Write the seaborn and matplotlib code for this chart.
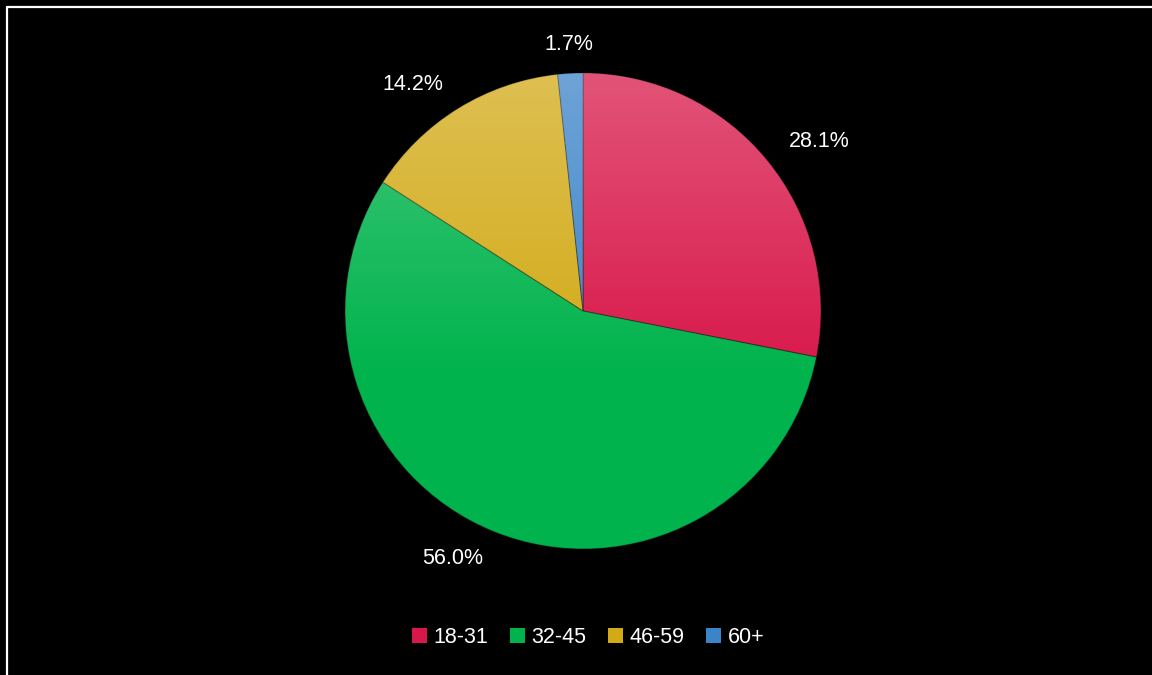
import numpy as np
import matplotlib
matplotlib.use("Agg")
import matplotlib.pyplot as plt
import seaborn as sns
from matplotlib.patches import Patch, Circle
from matplotlib.lines import Line2D

age_groups = ["18-31", "32-45", "46-59", "60+"]
shares = [28.1, 56.0, 14.2, 1.7]
colors = ["#d8184a", "#00b34c", "#d2aa16", "#3c84c8"]

sns.set_theme(style="dark")
plt.rcParams["font.family"] = ["Liberation Sans", "DejaVu Sans"]

fig = plt.figure(figsize=(11.52, 6.75), dpi=100, facecolor="black")
ax = fig.add_axes([0.2995, 0.1867, 0.4132, 0.7052])
ax.set_facecolor("black")

wedges, texts, autotexts = ax.pie(
    shares,
    colors=colors,
    startangle=90,
    counterclock=False,
    autopct="%.1f%%",
    wedgeprops=dict(edgecolor=(0, 0, 0, 0.35), linewidth=0.8),
    textprops=dict(color="white", fontsize=15.5),
)
ax.set_xlim(-1, 1)
ax.set_ylim(-1, 1)
ax.axis("off")

# put each label just outside its slice, anchored on the side facing the pie
for w, t in zip(wedges, autotexts):
    ang = np.deg2rad((w.theta1 + w.theta2) / 2)
    x, y = 1.12 * np.cos(ang), 1.12 * np.sin(ang)
    t.set_position((x, y))
    if abs(x) < 0.1:
        t.set_ha("center")
    else:
        t.set_ha("left" if x > 0 else "right")
    t.set_va("center")

# soft vertical gradient, lighter at the top
t_ = np.linspace(0, 1, 256)
alpha = np.clip(0.26 * (1 - t_ / 0.65), 0, None).reshape(-1, 1)
grad = np.ones((256, 1, 4))
grad[..., 3] = alpha
im = ax.imshow(grad, extent=(-1, 1, -1, 1), origin="upper", aspect="auto", zorder=3)
im.set_clip_path(Circle((0, 0), 1, transform=ax.transData))

handles = [Patch(facecolor=c, edgecolor="none") for c in colors]
leg = ax.legend(handles, age_groups, loc="center", bbox_to_anchor=(588 / 1152, 0.055),
                bbox_transform=fig.transFigure, ncol=4, frameon=False,
                handlelength=0.7, handleheight=0.7, handletextpad=0.3,
                columnspacing=1.0, fontsize=15.5)
for t in leg.get_texts():
    t.set_color("white")

# thin white frame along the top and left edges
fig.add_artist(Line2D([7 / 1152, 7 / 1152], [0, 1 - 7 / 675], color="white", lw=1.6))
fig.add_artist(Line2D([7 / 1152, 1], [1 - 7 / 675, 1 - 7 / 675], color="white", lw=1.6))

fig.savefig("out.png", dpi=100, facecolor="black")
